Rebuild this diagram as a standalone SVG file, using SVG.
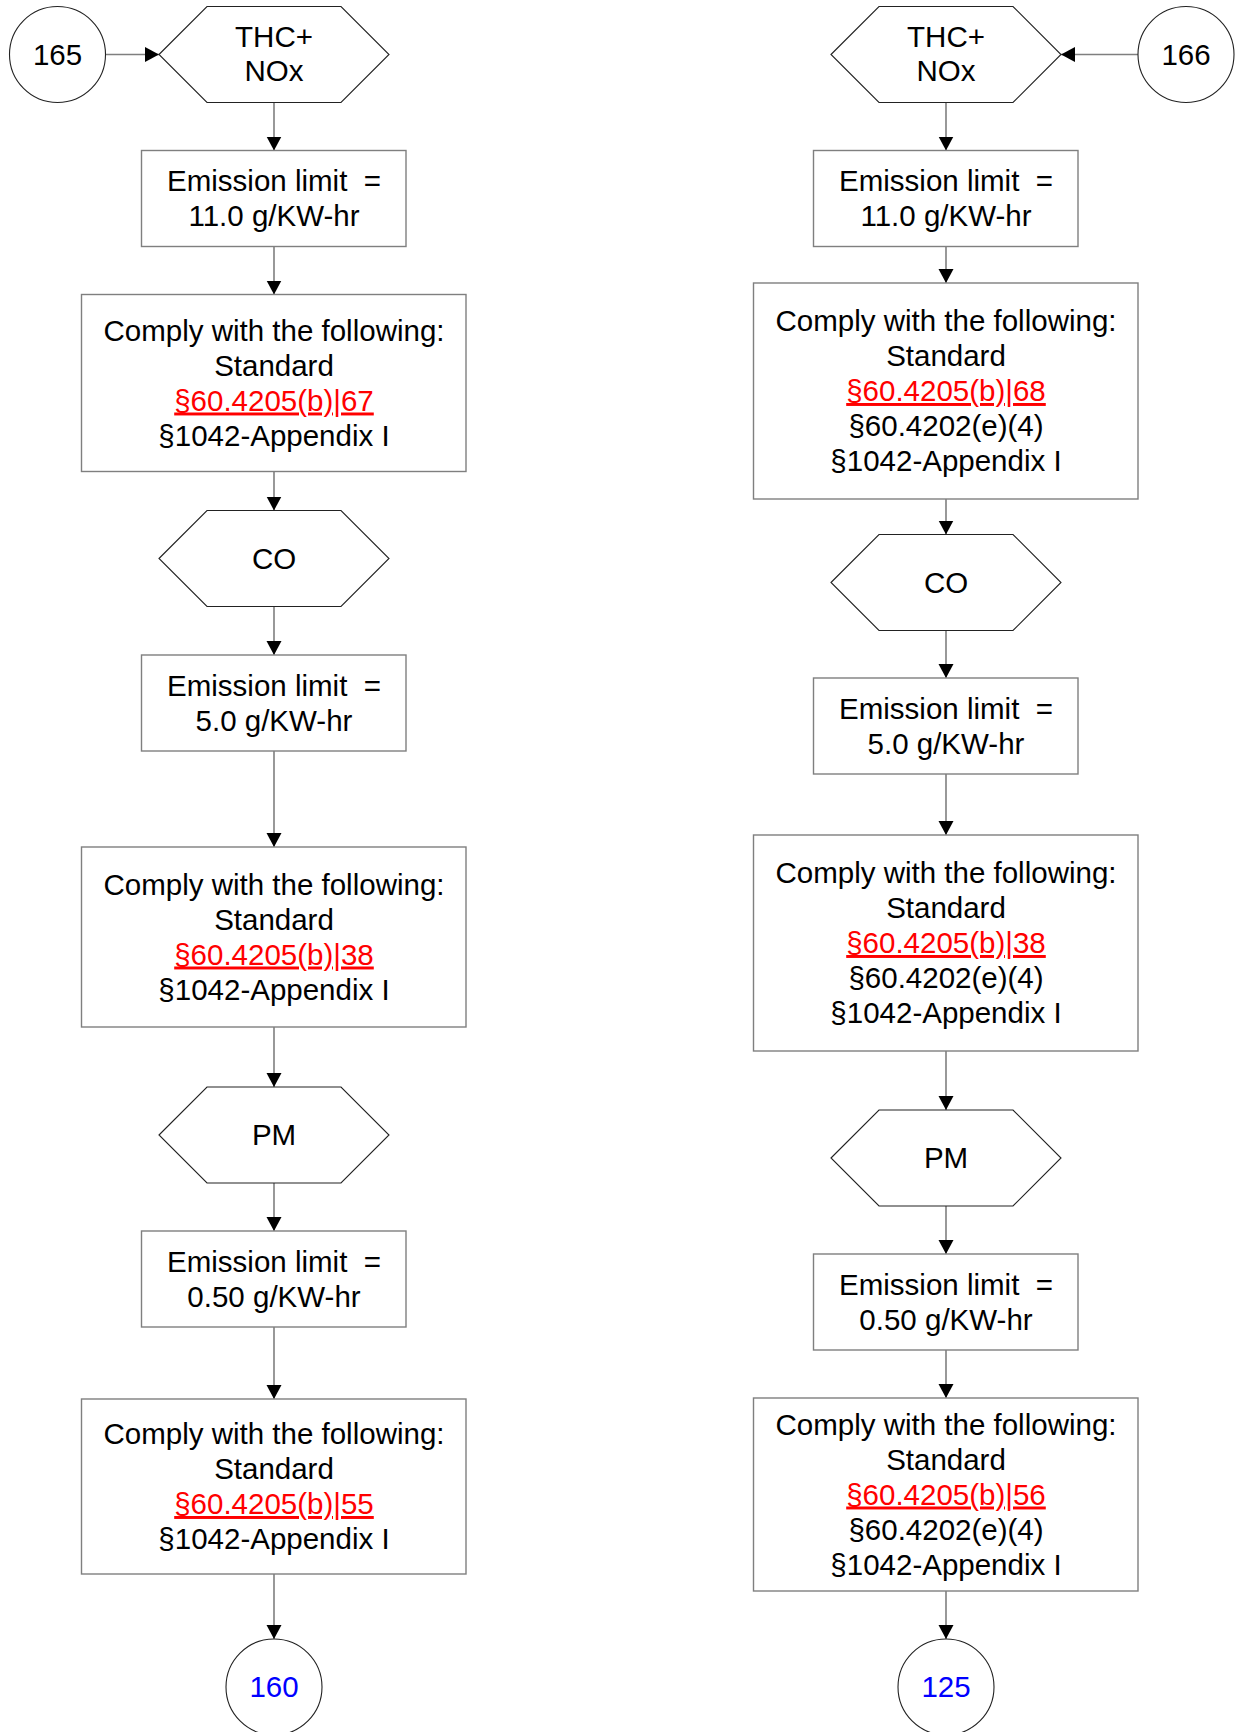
<svg xmlns="http://www.w3.org/2000/svg" width="1235" height="1732" viewBox="0 0 1235 1732">
<style>
  .box { fill: #ffffff; stroke: #7f7f7f; stroke-width: 1.4; }
  .hex { fill: #ffffff; stroke: #222222; stroke-width: 1.1; }
  .circ { fill: #ffffff; stroke: #222222; stroke-width: 1.1; }
  .conn { stroke: #7f7f7f; stroke-width: 1.6; fill: none; marker-end: url(#arr); }
  text { font-family: "Liberation Sans", Arial, sans-serif; font-size: 29.5px; fill: #000000; text-anchor: middle; }
  .ref { fill: #ff0000; text-decoration: underline; }
  .lnk { fill: #0000ff; }
</style>
<defs>
  <marker id="arr" markerUnits="userSpaceOnUse" markerWidth="15" markerHeight="16" refX="14" refY="8" orient="auto">
    <path d="M0,0.5 L14,8 L0,15.5 Z" fill="#000000"/>
  </marker>
</defs>

<g id="connectors">
  <line class="conn" x1="105.5" y1="54.5" x2="159" y2="54.5"/>
  <line class="conn" x1="274" y1="102.5" x2="274" y2="150.5"/>
  <line class="conn" x1="274" y1="246.5" x2="274" y2="294.5"/>
  <line class="conn" x1="274" y1="471.5" x2="274" y2="510.5"/>
  <line class="conn" x1="274" y1="606.5" x2="274" y2="655"/>
  <line class="conn" x1="274" y1="751" x2="274" y2="847"/>
  <line class="conn" x1="274" y1="1027" x2="274" y2="1087"/>
  <line class="conn" x1="274" y1="1183" x2="274" y2="1231"/>
  <line class="conn" x1="274" y1="1327" x2="274" y2="1399"/>
  <line class="conn" x1="274" y1="1574" x2="274" y2="1639"/>

  <line class="conn" x1="1138" y1="54.5" x2="1061" y2="54.5"/>
  <line class="conn" x1="946" y1="102.5" x2="946" y2="150.5"/>
  <line class="conn" x1="946" y1="246.5" x2="946" y2="283"/>
  <line class="conn" x1="946" y1="499" x2="946" y2="534.5"/>
  <line class="conn" x1="946" y1="630.5" x2="946" y2="678"/>
  <line class="conn" x1="946" y1="774" x2="946" y2="835"/>
  <line class="conn" x1="946" y1="1051" x2="946" y2="1110"/>
  <line class="conn" x1="946" y1="1206" x2="946" y2="1254"/>
  <line class="conn" x1="946" y1="1350" x2="946" y2="1398"/>
  <line class="conn" x1="946" y1="1591" x2="946" y2="1639"/>
</g>

<!-- Left column -->
<g id="c165">
  <circle class="circ" cx="57.5" cy="54.5" r="48"/>
  <text x="57.5" y="64.5">165</text>
</g>
<g id="hexL1">
  <polygon class="hex" points="159,54.5 207,6.5 341,6.5 389,54.5 341,102.5 207,102.5"/>
  <text x="274" y="47">THC+</text>
  <text x="274" y="81">NOx</text>
</g>
<g id="boxL1">
  <rect class="box" x="141.5" y="150.5" width="264.5" height="96"/>
  <text x="274" y="191" xml:space="preserve">Emission limit  =</text>
  <text x="274" y="226">11.0 g/KW-hr</text>
</g>
<g id="boxL2">
  <rect class="box" x="81.5" y="294.5" width="384.5" height="177"/>
  <text x="274" y="340.5">Comply with the following:</text>
  <text x="274" y="375.5">Standard</text>
  <text x="274" y="410.5" class="ref">§60.4205(b)|67</text>
  <text x="274" y="445.5">§1042-Appendix I</text>
</g>
<g id="hexL2">
  <polygon class="hex" points="159,558.5 207,510.5 341,510.5 389,558.5 341,606.5 207,606.5"/>
  <text x="274" y="568.5">CO</text>
</g>
<g id="boxL3">
  <rect class="box" x="141.5" y="655" width="264.5" height="96"/>
  <text x="274" y="695.5" xml:space="preserve">Emission limit  =</text>
  <text x="274" y="730.5">5.0 g/KW-hr</text>
</g>
<g id="boxL4">
  <rect class="box" x="81.5" y="847" width="384.5" height="180"/>
  <text x="274" y="894.5">Comply with the following:</text>
  <text x="274" y="929.5">Standard</text>
  <text x="274" y="964.5" class="ref">§60.4205(b)|38</text>
  <text x="274" y="999.5">§1042-Appendix I</text>
</g>
<g id="hexL3">
  <polygon class="hex" points="159,1135 207,1087 341,1087 389,1135 341,1183 207,1183"/>
  <text x="274" y="1145">PM</text>
</g>
<g id="boxL5">
  <rect class="box" x="141.5" y="1231" width="264.5" height="96"/>
  <text x="274" y="1271.5" xml:space="preserve">Emission limit  =</text>
  <text x="274" y="1306.5">0.50 g/KW-hr</text>
</g>
<g id="boxL6">
  <rect class="box" x="81.5" y="1399" width="384.5" height="175"/>
  <text x="274" y="1444">Comply with the following:</text>
  <text x="274" y="1479">Standard</text>
  <text x="274" y="1514" class="ref">§60.4205(b)|55</text>
  <text x="274" y="1549">§1042-Appendix I</text>
</g>
<g id="c160">
  <circle class="circ" cx="274" cy="1687" r="48"/>
  <text x="274" y="1697" class="lnk">160</text>
</g>

<!-- Right column -->
<g id="c166">
  <circle class="circ" cx="1186" cy="54.5" r="48"/>
  <text x="1186" y="64.5">166</text>
</g>
<g id="hexR1">
  <polygon class="hex" points="831,54.5 879,6.5 1013,6.5 1061,54.5 1013,102.5 879,102.5"/>
  <text x="946" y="47">THC+</text>
  <text x="946" y="81">NOx</text>
</g>
<g id="boxR1">
  <rect class="box" x="813.5" y="150.5" width="264.5" height="96"/>
  <text x="946" y="191" xml:space="preserve">Emission limit  =</text>
  <text x="946" y="226">11.0 g/KW-hr</text>
</g>
<g id="boxR2">
  <rect class="box" x="753.5" y="283" width="384.5" height="216"/>
  <text x="946" y="331">Comply with the following:</text>
  <text x="946" y="366">Standard</text>
  <text x="946" y="401" class="ref">§60.4205(b)|68</text>
  <text x="946" y="436">§60.4202(e)(4)</text>
  <text x="946" y="471">§1042-Appendix I</text>
</g>
<g id="hexR2">
  <polygon class="hex" points="831,582.5 879,534.5 1013,534.5 1061,582.5 1013,630.5 879,630.5"/>
  <text x="946" y="592.5">CO</text>
</g>
<g id="boxR3">
  <rect class="box" x="813.5" y="678" width="264.5" height="96"/>
  <text x="946" y="718.5" xml:space="preserve">Emission limit  =</text>
  <text x="946" y="753.5">5.0 g/KW-hr</text>
</g>
<g id="boxR4">
  <rect class="box" x="753.5" y="835" width="384.5" height="216"/>
  <text x="946" y="883">Comply with the following:</text>
  <text x="946" y="918">Standard</text>
  <text x="946" y="953" class="ref">§60.4205(b)|38</text>
  <text x="946" y="988">§60.4202(e)(4)</text>
  <text x="946" y="1023">§1042-Appendix I</text>
</g>
<g id="hexR3">
  <polygon class="hex" points="831,1158 879,1110 1013,1110 1061,1158 1013,1206 879,1206"/>
  <text x="946" y="1168">PM</text>
</g>
<g id="boxR5">
  <rect class="box" x="813.5" y="1254" width="264.5" height="96"/>
  <text x="946" y="1294.5" xml:space="preserve">Emission limit  =</text>
  <text x="946" y="1329.5">0.50 g/KW-hr</text>
</g>
<g id="boxR6">
  <rect class="box" x="753.5" y="1398" width="384.5" height="193"/>
  <text x="946" y="1434.5">Comply with the following:</text>
  <text x="946" y="1469.5">Standard</text>
  <text x="946" y="1504.5" class="ref">§60.4205(b)|56</text>
  <text x="946" y="1539.5">§60.4202(e)(4)</text>
  <text x="946" y="1574.5">§1042-Appendix I</text>
</g>
<g id="c125">
  <circle class="circ" cx="946" cy="1687" r="48"/>
  <text x="946" y="1697" class="lnk">125</text>
</g>
</svg>
